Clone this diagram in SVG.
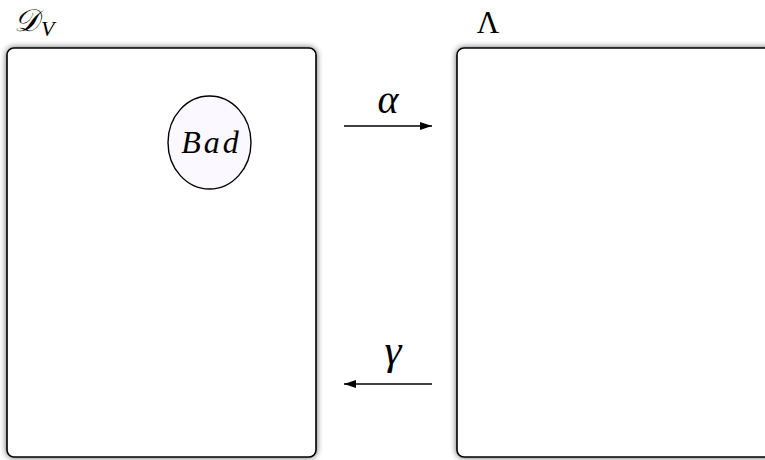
<svg xmlns="http://www.w3.org/2000/svg" width="765" height="460" viewBox="0 0 765 460">
<defs>
<filter id="sh" x="-10%" y="-10%" width="120%" height="120%">
<feGaussianBlur in="SourceAlpha" stdDeviation="3"/>
<feComponentTransfer><feFuncA type="linear" slope="0.6"/></feComponentTransfer>
<feMerge><feMergeNode/><feMergeNode in="SourceGraphic"/></feMerge>
</filter>
<marker id="ah" viewBox="0 0 12 8" refX="12" refY="4" markerWidth="12" markerHeight="8" markerUnits="userSpaceOnUse" orient="auto">
<path d="M0,0 L12,4 L0,8 Z" fill="#000"/>
</marker>
<style>
.box{fill:#fff;stroke:#000;stroke-width:1.6;filter:url(#sh)}
.ser{font-family:"Liberation Serif","DejaVu Serif",serif;fill:#000}
.it{font-style:italic}
.ln{stroke:#000;stroke-width:1.4;fill:none;marker-end:url(#ah)}
</style>
</defs>
<g id="DV">
<rect class="box" x="7" y="48" width="309" height="409" rx="7"/>
<text class="ser it" x="14" y="31" style="font-size:31px">𝒟</text>
<text class="ser it" x="41" y="36" style="font-size:22px">V</text>
</g>
<g id="Bad">
<ellipse cx="209.5" cy="142.5" rx="41.5" ry="46.5" fill="#fbf8ff" stroke="#000" stroke-width="1.4"/>
<text class="ser it" x="211.5" y="153" text-anchor="middle" style="font-size:32px;letter-spacing:3px">Bad</text>
</g>
<g id="Lambda">
<rect class="box" x="457" y="48" width="320" height="409" rx="7"/>
<text class="ser" x="488" y="33" text-anchor="middle" style="font-size:31px">Λ</text>
</g>
<g id="connectors">
<line class="ln" x1="344" y1="126" x2="432" y2="126"/>
<text class="ser it" x="388" y="113" text-anchor="middle" style="font-size:40px">α</text>
<line class="ln" x1="432" y1="384" x2="344" y2="384"/>
<text class="ser it" x="393" y="364" text-anchor="middle" style="font-size:43px">γ</text>
</g>
</svg>
